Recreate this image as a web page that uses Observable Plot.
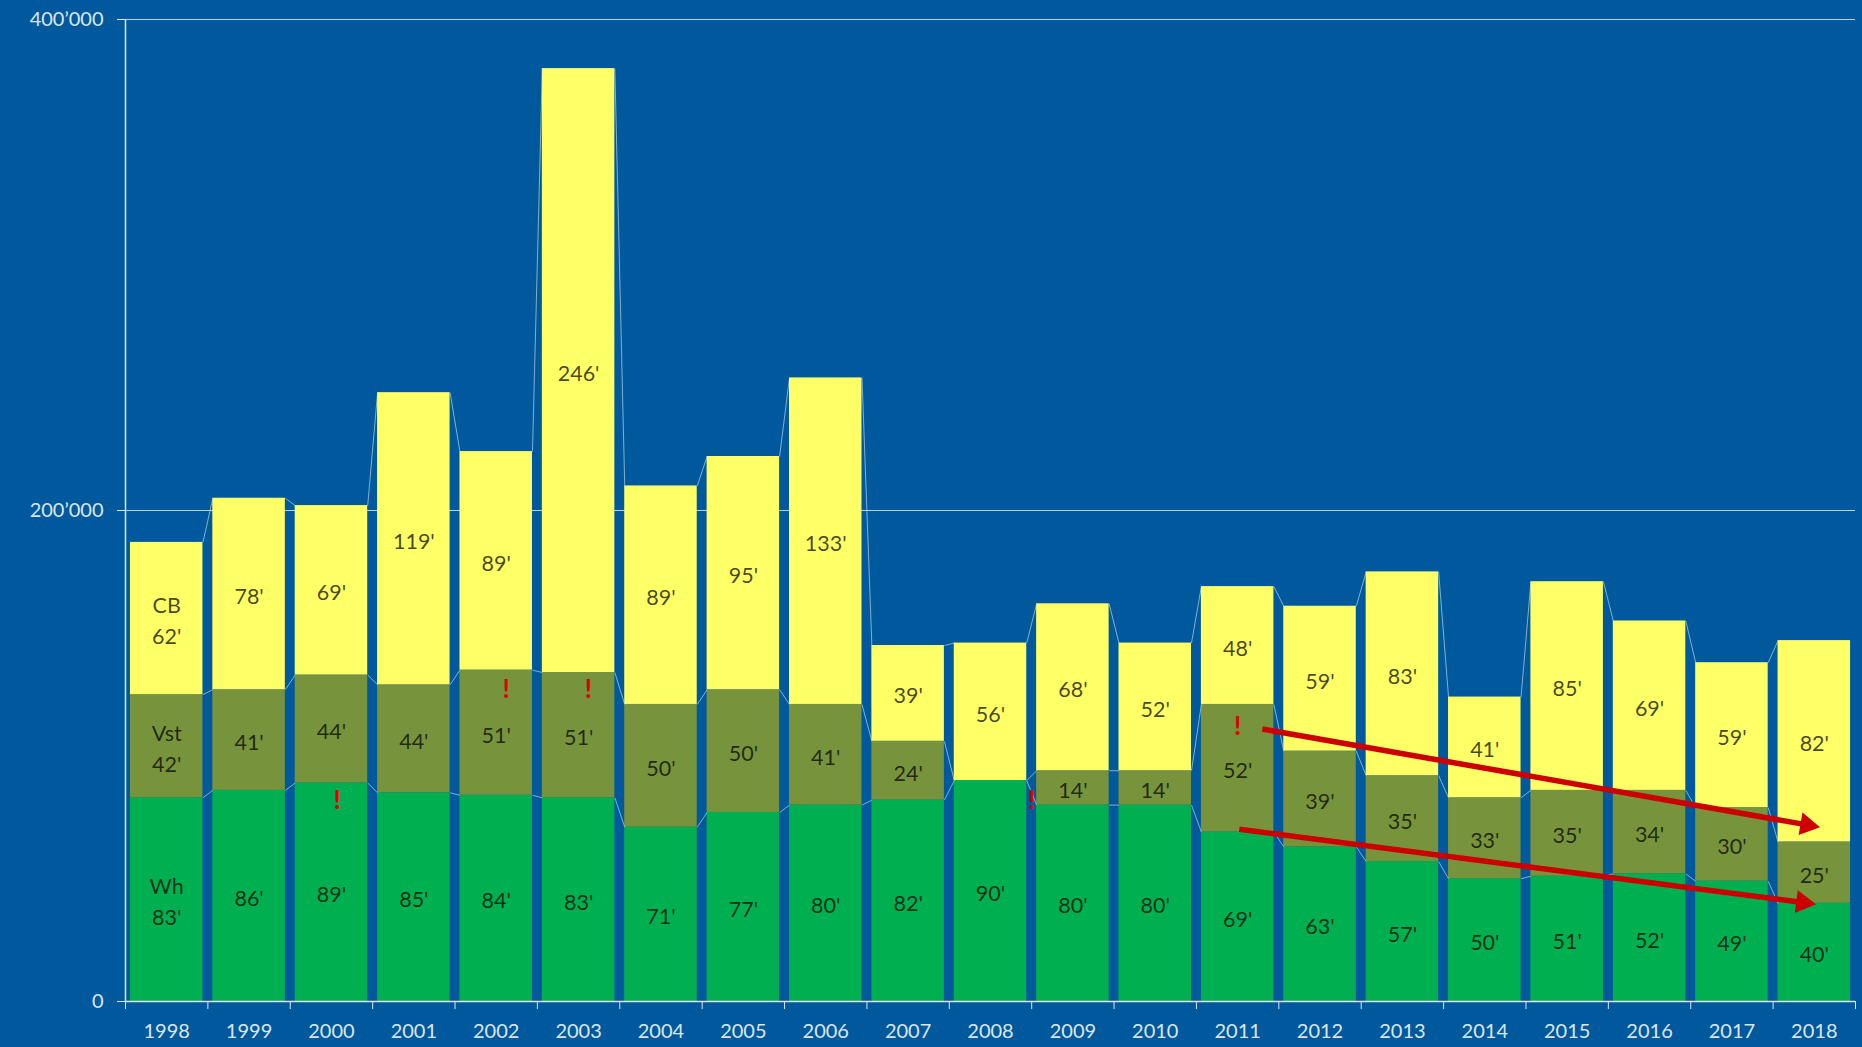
<!DOCTYPE html>
<html><head><meta charset="utf-8">
<script src="https://cdn.jsdelivr.net/npm/d3@7"></script>
<script src="https://cdn.jsdelivr.net/npm/@observablehq/plot@0.6"></script>
<style>html,body{margin:0;padding:0;background:#00599c;overflow:hidden}</style>
</head><body><div id="chart"></div>
<script>
// ---- data (thousands) ----
const years = [1998,1999,2000,2001,2002,2003,2004,2005,2006,2007,2008,2009,2010,2011,2012,2013,2014,2015,2016,2017,2018];
const wh  = [83,86,89,85,84,83,71,77,80,82,90,80,80,69,63,57,50,51,52,49,40];
const vst = [42,41,44,44,51,51,50,50,41,24,0,14,14,52,39,35,33,35,34,30,25];
const cb  = [62,78,69,119,89,246,89,95,133,39,56,68,52,48,59,83,41,85,69,59,82];
const seriesNames = ["Wh","Vst","CB"];
const seriesColors = ["#00b050","#77933c","#ffff66"];
const yTicks = [0,200000,400000];
const yTickLabels = ["0","200’000","400’000"];
// annotations (x in years, y in units)
const exclX = [2000.07,2002.12,2003.12,2008.5,2011.0];
const exclY = [82000,127000,127000,82000,112000];
const arrowX1 = [2011.3,2011.02];
const arrowY1 = [111000,70200];
const arrowX2 = [2018.07,2018.02];
const arrowY2 = [71000,39600];

// ---- build tables ----
const seriesVals = [wh, vst, cb];
const hw = 0.44;
const rows = [];
const tops = seriesNames.map(() => []);
years.forEach((yr, i) => {
  let base = 0;
  seriesNames.forEach((name, s) => {
    const v = seriesVals[s][i] * 1000;
    rows.push({year: yr, series: name, v: seriesVals[s][i], y1: base, y2: base + v, mid: base + v / 2,
      label: i === 0 ? `${name}\n${seriesVals[s][i]}'` : `${seriesVals[s][i]}'`});
    base += v;
    tops[s].push(base);
  });
});
const links = [];
seriesNames.forEach((name, s) => {
  for (let i = 0; i < years.length - 1; i++) {
    links.push({x1: years[i] + hw, y1: tops[s][i], x2: years[i + 1] - hw, y2: tops[s][i + 1]});
  }
});
const boundaries = years.map(y => y - 0.5).concat([years[years.length - 1] + 0.5]);
const excl = exclX.map((x, i) => ({x, y: exclY[i]}));
const light = "#dbe6f2";
const headR = 8.5;

function build(arrowData, heads) {
  const marks = [
    Plot.gridY(yTicks.slice(1), {stroke: light, strokeOpacity: 0.85, strokeWidth: 1.2}),
    Plot.rect(rows, {x1: d => d.year - hw, x2: d => d.year + hw, y1: "y1", y2: "y2", fill: "series"}),
    Plot.link(links, {x1: "x1", y1: "y1", x2: "x2", y2: "y2", stroke: light, strokeOpacity: 0.6, strokeWidth: 1}),
    Plot.text(rows.filter(d => d.v > 0), {x: "year", y: "mid", text: "label", fontSize: 21.5, lineHeight: 1.45, fill: "#000", fillOpacity: 0.72}),
    Plot.ruleY([0], {stroke: light, strokeWidth: 1.5}),
    Plot.ruleX([years[0] - 0.5], {y1: 0, y2: 400000, stroke: light, strokeWidth: 1.5}),
    Plot.axisY({ticks: yTicks, tickFormat: d => yTickLabels[yTicks.indexOf(d)], tickSize: 8, tickPadding: 14, fontSize: 20, stroke: light, fill: light}),
    Plot.axisX({ticks: boundaries, tickFormat: () => "", tickSize: 8, stroke: light}),
    Plot.axisX({ticks: years, tickFormat: d => String(d), tickSize: 0, tickPadding: 22, fontSize: 20, fill: light}),
    Plot.link(arrowData, {x1: "x1", y1: "y1", x2: "x2", y2: "y2", stroke: "#cc0000", strokeWidth: 5.5}),
    Plot.dot(heads, {x: "x", y: "y", symbol: "triangle", r: headR, rotate: "rotate", fill: "#cc0000", stroke: "none"}),
    Plot.text(excl, {x: "x", y: "y", text: () => "!", fill: "#e00000", fontSize: 26, fontWeight: "bold"})
  ];
  return Plot.plot({
    width: 1862, height: 1047,
    marginLeft: 125, marginRight: 7, marginTop: 19, marginBottom: 46,
    style: {background: "#00599c", fontFamily: "Lato, 'Open Sans', sans-serif", color: light},
    x: {domain: [years[0] - 0.5, years[years.length - 1] + 0.5], axis: null},
    y: {domain: [0, 400000], axis: null},
    color: {domain: seriesNames, range: seriesColors},
    marks
  });
}

// first pass to get scales for arrowhead geometry
const probe = build([], []);
const sx = probe.scale("x"), sy = probe.scale("y");
const tipBack = 2 * Math.sqrt(Math.PI * headR * headR / (3 * Math.sqrt(3)));
const arrowData = [], heads = [];
arrowX1.forEach((x1, i) => {
  const p1 = [sx.apply(x1), sy.apply(arrowY1[i])];
  const p2 = [sx.apply(arrowX2[i]), sy.apply(arrowY2[i])];
  const th = Math.atan2(p2[1] - p1[1], p2[0] - p1[0]);
  const c = [p2[0] - tipBack * Math.cos(th), p2[1] - tipBack * Math.sin(th)];
  arrowData.push({x1, y1: arrowY1[i], x2: sx.invert(c[0]), y2: sy.invert(c[1])});
  heads.push({x: sx.invert(c[0]), y: sy.invert(c[1]), rotate: th * 180 / Math.PI + 90});
});
document.getElementById("chart").appendChild(build(arrowData, heads));
</script>
</body></html>
